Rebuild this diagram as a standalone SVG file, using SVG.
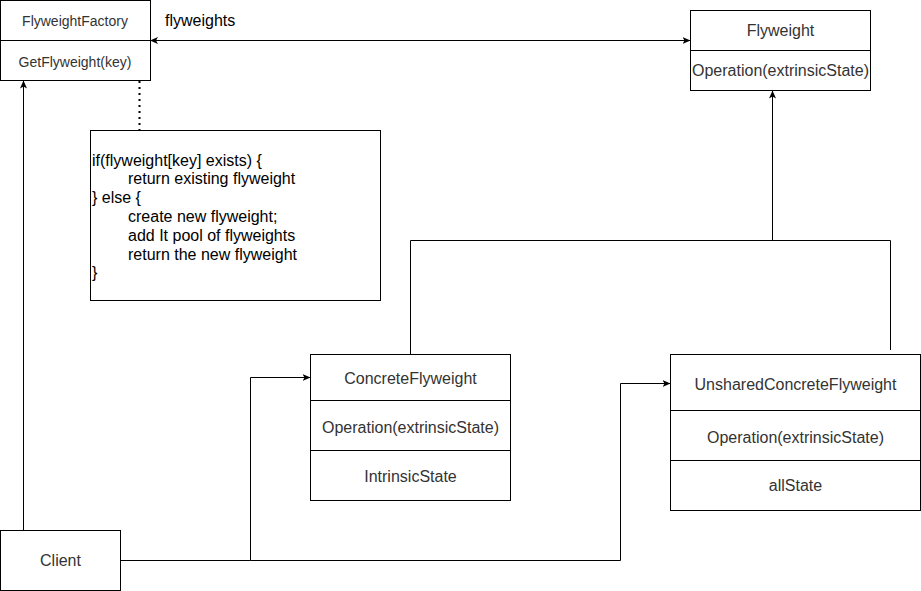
<svg xmlns="http://www.w3.org/2000/svg" width="921" height="591" viewBox="0 0 921 591">
<defs>
<style>
.box{fill:#fff;stroke:#000;stroke-width:1}
.ln{fill:none;stroke:#000;stroke-width:1}
.t{font-family:"Liberation Sans",Arial,sans-serif;font-size:16px;fill:#333;text-anchor:middle}
.ts{font-family:"Liberation Sans",Arial,sans-serif;font-size:14px;fill:#333;text-anchor:middle}
.tl{font-family:"Liberation Sans",Arial,sans-serif;font-size:16px;fill:#000}
</style>
<marker id="arr" viewBox="0 0 8 8" refX="7.5" refY="4" markerWidth="8" markerHeight="8" markerUnits="userSpaceOnUse" orient="auto-start-reverse">
<path d="M0,0.5 L8,4 L0,7.5 L2,4 Z" fill="#000"/>
</marker>
</defs>
<rect width="921" height="591" fill="#fff"/>
<g id="connectors">
<path class="ln" d="M150.5,40.5 H690" marker-start="url(#arr)" marker-end="url(#arr)"/>
<path class="ln" d="M139.5,81 V130" stroke-dasharray="2 4" style="stroke-width:2"/>
<path class="ln" d="M23.5,530 V81" marker-end="url(#arr)"/>
<path class="ln" d="M410.5,354 V240.5 H890.5 V350"/>
<path class="ln" d="M772.5,240.5 V91" marker-end="url(#arr)"/>
<path class="ln" d="M120.5,560.5 H250.5 V377.5 H310" marker-end="url(#arr)"/>
<path class="ln" d="M250.5,560.5 H620.5 V383.5 H670" marker-end="url(#arr)"/>
<text class="tl" x="165" y="26">flyweights</text>
</g>
<g id="FlyweightFactory">
<rect class="box" x="0.5" y="0.5" width="150" height="80"/>
<line class="ln" x1="0.5" y1="40.5" x2="150.5" y2="40.5"/>
<text class="ts" x="75" y="25.5">FlyweightFactory</text>
<text class="ts" x="75" y="66.5">GetFlyweight(key)</text>
</g>
<g id="note">
<rect class="box" x="90.5" y="130.5" width="290" height="170"/>
<text class="tl" x="92" y="165.5">if(flyweight[key] exists) {</text>
<text class="tl" x="128" y="184.3">return existing flyweight</text>
<text class="tl" x="92" y="203.1">} else {</text>
<text class="tl" x="128" y="221.9">create new flyweight;</text>
<text class="tl" x="128" y="240.7">add It pool of flyweights</text>
<text class="tl" x="128" y="259.5">return the new flyweight</text>
<text class="tl" x="92" y="278.3">}</text>
</g>
<g id="Flyweight">
<rect class="box" x="690.5" y="10.5" width="180" height="80"/>
<line class="ln" x1="690.5" y1="50.5" x2="870.5" y2="50.5"/>
<text class="t" x="780.5" y="36">Flyweight</text>
<text class="t" x="780.5" y="76">Operation(extrinsicState)</text>
</g>
<g id="ConcreteFlyweight">
<rect class="box" x="310.5" y="354.5" width="200" height="146"/>
<line class="ln" x1="310.5" y1="400.5" x2="510.5" y2="400.5"/>
<line class="ln" x1="310.5" y1="450.5" x2="510.5" y2="450.5"/>
<text class="t" x="410.5" y="383.5">ConcreteFlyweight</text>
<text class="t" x="410.5" y="432.5">Operation(extrinsicState)</text>
<text class="t" x="410.5" y="481.5">IntrinsicState</text>
</g>
<g id="UnsharedConcreteFlyweight">
<rect class="box" x="670.5" y="354.5" width="250" height="156"/>
<line class="ln" x1="670.5" y1="410.5" x2="920.5" y2="410.5"/>
<line class="ln" x1="670.5" y1="460.5" x2="920.5" y2="460.5"/>
<text class="t" x="795.5" y="389.5">UnsharedConcreteFlyweight</text>
<text class="t" x="795.5" y="442.5">Operation(extrinsicState)</text>
<text class="t" x="795.5" y="491">allState</text>
</g>
<g id="Client">
<rect class="box" x="0.5" y="530.5" width="120" height="60"/>
<text class="t" x="60.5" y="566">Client</text>
</g>
</svg>
